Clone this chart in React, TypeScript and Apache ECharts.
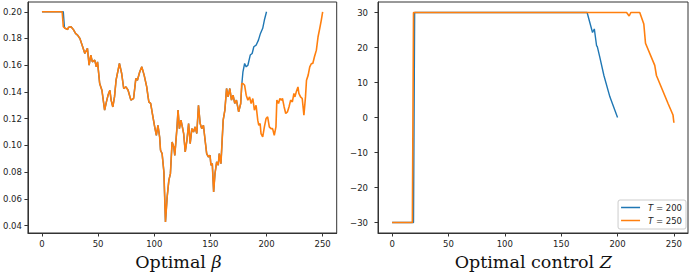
import React, { useEffect, useRef } from "react";
import * as echarts from "echarts";

const xTicks = [0, 50, 100, 150, 200, 250];
const betaTicks = [0.04, 0.06, 0.08, 0.1, 0.12, 0.14, 0.16, 0.18, 0.2];
const zTicks = [-30, -20, -10, 0, 10, 20, 30];
const seriesNames = ["T = 200", "T = 250"];

// beta: shared part of both runs
const betaSharedX = [20.6, 22.9, 23.6, 25.9, 27.9, 29.9, 31.7, 33.8, 35.8, 38.2, 40.5, 42, 43.5, 44.9, 47, 48.4, 49.5, 51.4, 53.4, 55.8, 57.5, 59, 60.5, 61.6, 63.1, 64.6, 66, 69, 71, 72.8, 74.8, 76.7, 79.2, 81.6, 83.6, 85, 87.1, 88.9, 91, 93.3, 94.3, 95.2, 96.8, 98.3, 100.4, 101.9, 103.3, 104.8, 105.6, 107, 108.6, 110, 111.5, 113, 114.4, 115.9, 117.4, 118.3, 120.3, 121.2, 122.4, 123.8, 125, 126.2, 127.6, 129.1, 130.6, 132, 133.5, 135, 136.4, 137.9, 139.4, 140.9, 142.3, 143.8, 145.3, 146.7, 148.2, 149.7, 150.5, 151.7, 152.9, 154.1, 155.6, 157, 157.9, 159.4, 161.4, 162.9, 164.4, 165.8, 167.3, 168.8, 170.2, 171.7, 173.2, 175.2, 177];
const betaSharedY = [0.1876, 0.1868, 0.1883, 0.1888, 0.1868, 0.1838, 0.1825, 0.18, 0.175, 0.1688, 0.1726, 0.16, 0.1676, 0.1625, 0.1638, 0.1588, 0.1625, 0.1463, 0.1413, 0.1264, 0.133, 0.138, 0.1413, 0.1339, 0.1288, 0.1363, 0.1488, 0.1613, 0.1538, 0.1426, 0.1438, 0.1413, 0.1339, 0.1351, 0.15, 0.1488, 0.1551, 0.1588, 0.1526, 0.1438, 0.1376, 0.1326, 0.1314, 0.1239, 0.1139, 0.1076, 0.1151, 0.1063, 0.0964, 0.0939, 0.0801, 0.0427, 0.0614, 0.0739, 0.0789, 0.1026, 0.0989, 0.0926, 0.1139, 0.1264, 0.1126, 0.1189, 0.114, 0.1089, 0.0951, 0.1039, 0.1164, 0.1014, 0.1126, 0.1101, 0.1139, 0.1089, 0.1301, 0.1164, 0.1126, 0.1151, 0.1039, 0.0939, 0.0914, 0.0926, 0.0852, 0.0864, 0.0652, 0.079, 0.0877, 0.0852, 0.0939, 0.0864, 0.1189, 0.1264, 0.1426, 0.1363, 0.1426, 0.1339, 0.1376, 0.1314, 0.1339, 0.1251, 0.1314];

const beta200HeadX = [0, 19, 20];
const beta200HeadY = [0.2, 0.2, 0.1885];
const beta200TailX = [178.2, 179, 180.5, 181.9, 183.4, 185.5, 187.2, 188.7, 190.7, 192.8, 194.6, 196.6, 198.1, 200];
const beta200TailY = [0.1476, 0.1551, 0.1613, 0.1588, 0.16, 0.1676, 0.1688, 0.1738, 0.175, 0.1788, 0.1838, 0.1876, 0.1938, 0.2];

const beta250HeadX = [0, 18, 19];
const beta250HeadY = [0.2, 0.2, 0.1888];
const beta250TailX = [177.9, 179, 180.5, 181.9, 183.4, 184.9, 186.3, 187.8, 189.2, 190.7, 192.2, 193.1, 194.3, 195.1, 196.6, 198.1, 199.6, 201, 202.5, 204, 205.4, 206.9, 208.4, 209.2, 210.7, 211.9, 213.3, 214.2, 215.7, 217.1, 218.6, 220, 221.5, 223, 224.4, 225.3, 226.5, 228, 228.8, 230.3, 231.8, 233.3, 234.7, 235.6, 237.1, 238.5, 240, 241.2, 242.7, 244.4, 245.9, 247.4, 248.8, 250];
const beta250TailY = [0.1463, 0.1463, 0.145, 0.1376, 0.1339, 0.1363, 0.1314, 0.1351, 0.1264, 0.13, 0.1189, 0.1151, 0.1164, 0.1089, 0.1064, 0.1139, 0.1201, 0.1214, 0.1139, 0.1126, 0.1126, 0.1076, 0.1139, 0.1339, 0.1314, 0.1351, 0.1339, 0.1351, 0.1288, 0.1239, 0.1251, 0.1288, 0.1339, 0.1326, 0.1389, 0.1363, 0.1401, 0.1438, 0.1389, 0.1363, 0.1351, 0.1226, 0.1363, 0.1488, 0.1526, 0.1588, 0.1613, 0.1613, 0.1663, 0.1713, 0.1813, 0.1876, 0.1938, 0.2];

// control Z
const z200X = [0, 19, 20, 173, 177.8, 179.4, 181.4, 182, 184.3, 187.9, 193.2, 200];
const z200Y = [-30, -30, 30, 30, 24.3, 25.3, 20.5, 20.3, 17.2, 12, 5.9, 0];
const z250X = [0, 18, 19, 208, 210.3, 211.8, 219.7, 223.3, 224.8, 233, 234.5, 244.8, 249.2, 250];
const z250Y = [-30, -30, 30, 30, 29, 30, 30, 26.7, 21.2, 14.9, 12, 4, 0.7, -1.5];

const zip = (xs: number[], ys: number[]) => xs.map((x, i) => [x, ys[i]]);

const BLUE = "#1f77b4";
const ORANGE = "#ff7f0e";
const AXIS = "#333";
const LABEL = "#222";

function xAxisCfg(gridIndex: number) {
  return {
    gridIndex,
    type: "value",
    min: -12.5,
    max: 262.5,
    splitLine: { show: false },
    axisLine: { show: true, onZero: false, lineStyle: { color: AXIS, width: 1 } },
    axisTick: { show: true, length: 3.5, customValues: xTicks, lineStyle: { color: AXIS } },
    axisLabel: { customValues: xTicks, fontSize: 8.5, color: LABEL, margin: 6, fontFamily: "DejaVu Sans" },
  };
}

export default function App() {
  const ref = useRef<HTMLDivElement>(null);
  useEffect(() => {
    if (!ref.current) return;
    const chart = echarts.init(ref.current, undefined, { renderer: "svg" });
    const lineSeries = (name: string, color: string, idx: number, data: number[][]) => ({
      name,
      type: "line",
      xAxisIndex: idx,
      yAxisIndex: idx,
      data,
      showSymbol: false,
      symbol: "none",
      lineStyle: { color, width: color === ORANGE ? 1.6 : 1.4 },
      itemStyle: { color },
      z: color === ORANGE ? 3 : 2,
    });
    chart.setOption({
      animation: false,
      backgroundColor: "#fff",
      grid: [
        { left: 25, top: 2, width: 311.7, height: 231, show: true, borderColor: AXIS, borderWidth: 1, backgroundColor: "transparent" },
        { left: 378, top: 2, width: 310, height: 231, show: true, borderColor: AXIS, borderWidth: 1, backgroundColor: "transparent" },
      ],
      xAxis: [xAxisCfg(0), xAxisCfg(1)],
      yAxis: [
        {
          gridIndex: 0,
          type: "value",
          min: 0.0345,
          max: 0.2073,
          splitLine: { show: false },
          axisLine: { show: true, onZero: false, lineStyle: { color: AXIS } },
          axisTick: { show: true, length: 3.5, customValues: betaTicks, lineStyle: { color: AXIS } },
          axisLabel: {
            customValues: betaTicks,
            fontSize: 8.5,
            color: LABEL,
            margin: 6,
            fontFamily: "DejaVu Sans",
            formatter: (v: number) => v.toFixed(2),
          },
        },
        {
          gridIndex: 1,
          type: "value",
          min: -33,
          max: 33,
          splitLine: { show: false },
          axisLine: { show: true, onZero: false, lineStyle: { color: AXIS } },
          axisTick: { show: true, length: 3.5, customValues: zTicks, lineStyle: { color: AXIS } },
          axisLabel: {
            customValues: zTicks,
            fontSize: 8.5,
            color: LABEL,
            margin: 10,
            fontFamily: "DejaVu Sans",
            formatter: (v: number) => (v < 0 ? "\u2212" + Math.abs(v) : String(v)),
          },
        },
      ],
      title: [
        {
          text: "Optimal {i|β}",
          left: 178.4,
          top: 252,
          textAlign: "center",
          padding: 0,
          textStyle: {
            fontFamily: "DejaVu Serif",
            fontSize: 17.5,
            fontWeight: "normal",
            color: "#111",
            lineHeight: 20,
            rich: { i: { fontFamily: "DejaVu Serif", fontSize: 17.5, fontStyle: "italic", color: "#111", lineHeight: 20 } },
          },
        },
        {
          text: "Optimal control {i|Z}",
          left: 533.3,
          top: 252,
          textAlign: "center",
          padding: 0,
          textStyle: {
            fontFamily: "DejaVu Serif",
            fontSize: 17.5,
            fontWeight: "normal",
            color: "#111",
            lineHeight: 20,
            rich: { i: { fontFamily: "DejaVu Serif", fontSize: 17.5, fontStyle: "italic", color: "#111", lineHeight: 20 } },
          },
        },
      ],
      legend: {
        data: seriesNames,
        orient: "vertical",
        right: 4,
        bottom: 47,
        icon: "rect",
        itemWidth: 19,
        itemHeight: 1.5,
        itemGap: 2,
        padding: [2, 4, 3, 3],
        borderColor: "#ccc",
        borderWidth: 1,
        borderRadius: 2,
        backgroundColor: "#fff",
        selectedMode: false,
        formatter: (name: string) => "{i|T} = " + name.split("= ")[1],
        textStyle: {
          fontFamily: "DejaVu Sans",
          fontSize: 8.5,
          color: LABEL,
          lineHeight: 11,
          rich: {
            i: { fontFamily: "DejaVu Sans", fontSize: 8.5, fontStyle: "italic", color: LABEL, padding: [0, 0, 0, 3], lineHeight: 11 },
          },
        },
      },
      series: [
        lineSeries(seriesNames[0], BLUE, 0, [...zip(beta200HeadX, beta200HeadY), ...zip(betaSharedX, betaSharedY), ...zip(beta200TailX, beta200TailY)]),
        lineSeries(seriesNames[1], ORANGE, 0, [...zip(beta250HeadX, beta250HeadY), ...zip(betaSharedX, betaSharedY), ...zip(beta250TailX, beta250TailY)]),
        lineSeries(seriesNames[0], BLUE, 1, zip(z200X, z200Y)),
        lineSeries(seriesNames[1], ORANGE, 1, zip(z250X, z250Y)),
      ],
    });
    return () => chart.dispose();
  }, []);
  return <div ref={ref} style={{ position: "fixed", left: 0, top: 0, width: 690, height: 276, background: "#fff" }} />;
}
